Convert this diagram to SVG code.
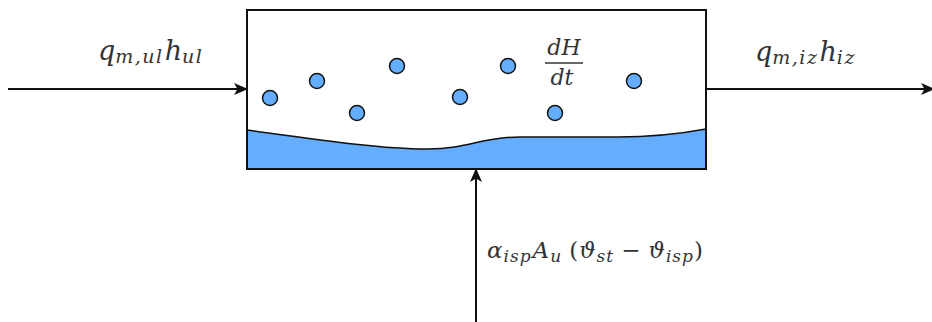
<svg xmlns="http://www.w3.org/2000/svg" width="932" height="322" viewBox="0 0 932 322">
<defs>
<style>
.m{font-family:"DejaVu Serif","Liberation Serif",serif;font-style:italic;fill:#333;}
.b{font-size:27px;}
.s{font-size:19px;letter-spacing:1.5px;}
.h{font-size:23px;letter-spacing:1px;}
.hs{font-size:17px;letter-spacing:1px;}
.u{font-style:normal;}
.bub{fill:#64adff;stroke:#111;stroke-width:1.5;}
.ln{stroke:#111;stroke-width:2;fill:none;}
</style>
<marker id="ah" markerWidth="14" markerHeight="12" refX="13" refY="6" orient="auto" markerUnits="userSpaceOnUse">
<path d="M0,0 L14,6 L0,12 L3.5,6 Z" fill="#111"/>
</marker>
</defs>
<rect width="932" height="322" fill="#fff"/>
<g id="tank">
<rect x="247" y="10" width="459" height="159" fill="#fff" stroke="#111" stroke-width="2"/>
<path d="M247,130 C320,140 380,149 427,149 C470,149 480,137 520,137 L617,137 C660,137 690,132 706,129 L706,169 L247,169 Z" fill="#64adff" stroke="#111" stroke-width="1.5"/>
<rect x="247" y="10" width="459" height="159" fill="none" stroke="#111" stroke-width="2"/>
</g>
<g id="bubbles">
<circle class="bub" cx="270" cy="98" r="7.5"/>
<circle class="bub" cx="317" cy="81" r="7.5"/>
<circle class="bub" cx="357" cy="113" r="7.5"/>
<circle class="bub" cx="397" cy="66" r="7.5"/>
<circle class="bub" cx="460" cy="97" r="7.5"/>
<circle class="bub" cx="508" cy="66" r="7.5"/>
<circle class="bub" cx="555" cy="113" r="7.5"/>
<circle class="bub" cx="634" cy="81" r="7.5"/>
</g>
<g id="connectors">
<line class="ln" x1="8" y1="89" x2="247" y2="89" marker-end="url(#ah)"/>
<line class="ln" x1="706" y1="89" x2="934" y2="89" marker-end="url(#ah)"/>
<line class="ln" x1="476" y1="322" x2="476" y2="169" marker-end="url(#ah)"/>
</g>
<g id="label-in">
<text x="98" y="60" class="m b">q<tspan class="s" dy="3">m,ul</tspan><tspan dy="-3" dx="1">h</tspan><tspan class="s" dy="3">ul</tspan></text>
</g>
<g id="label-dHdt">
<text x="564" y="55" class="m" font-size="22" text-anchor="middle">dH</text>
<line x1="545" y1="63" x2="583" y2="63" stroke="#333" stroke-width="1.3"/>
<text x="562" y="85" class="m" font-size="22" text-anchor="middle">dt</text>
</g>
<g id="label-out">
<text x="755" y="61" class="m b">q<tspan class="s" dy="3">m,iz</tspan><tspan dy="-3" dx="1">h</tspan><tspan class="s" dy="3">iz</tspan></text>
</g>
<g id="label-heat">
<text x="487" y="258" class="m h">α<tspan class="hs" dy="4">isp</tspan><tspan dy="-4" dx="1">A</tspan><tspan class="hs" dy="4">u</tspan><tspan class="u" dy="-4" dx="7">(</tspan>ϑ<tspan class="hs" dy="4">st</tspan><tspan class="u" dy="-4" dx="7">−</tspan><tspan dx="7">ϑ</tspan><tspan class="hs" dy="4">isp</tspan><tspan class="u" dy="-4">)</tspan></text>
</g>
</svg>
